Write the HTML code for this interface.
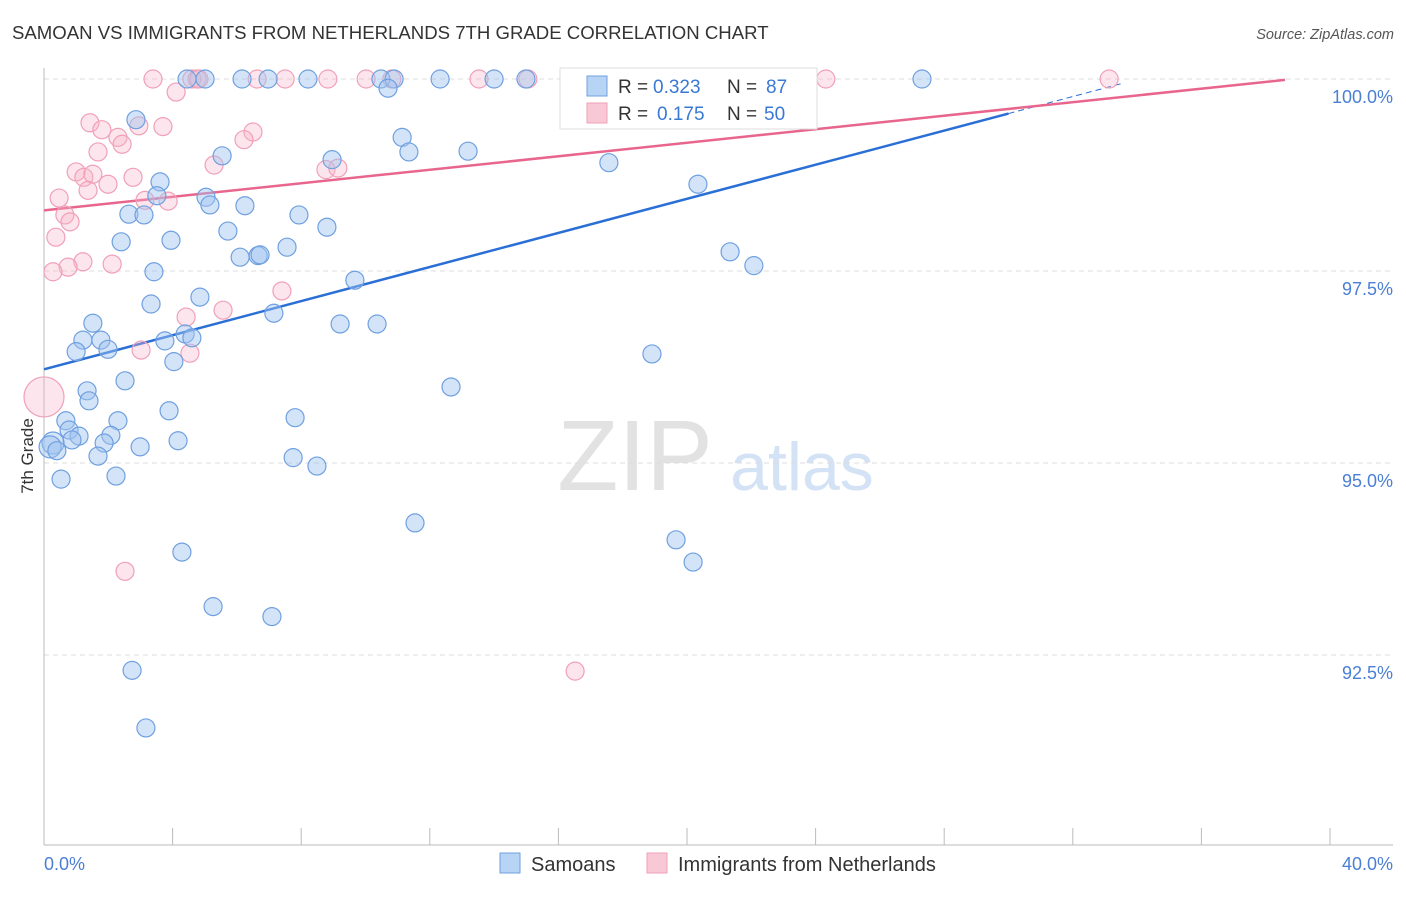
<!DOCTYPE html>
<html><head><meta charset="utf-8"><style>
body{margin:0;background:#fff;font-family:"Liberation Sans",sans-serif;}
svg text{font-family:"Liberation Sans",sans-serif;}
</style></head><body>
<svg id="chart" width="1406" height="892" xmlns="http://www.w3.org/2000/svg">
<text x="12" y="39" font-size="18.6" fill="#333">SAMOAN VS IMMIGRANTS FROM NETHERLANDS 7TH GRADE CORRELATION CHART</text>
<text x="1394" y="39" font-size="14.5" fill="#555" font-style="italic" text-anchor="end">Source: ZipAtlas.com</text>
<g>
<text x="635" y="490" font-size="100" fill="#e2e2e2" font-family="Liberation Serif" text-anchor="middle">ZIP</text>
<text x="802" y="490" font-size="68" fill="#d3e2f4" text-anchor="middle">atlas</text>
</g>
<g id="grid"></g>
<g id="axes"></g>
<g id="lines"></g>
<g id="points"></g>
<text transform="translate(33,456) rotate(-90)" font-size="17" fill="#333" text-anchor="middle">7th Grade</text>
<g>
<rect x="560" y="68" width="257" height="61" fill="#fff" stroke="#ddd"/>
<rect x="587" y="76" width="20" height="20" fill="#b8d4f4" stroke="#6fa0e0"/>
<text x="618" y="93" font-size="19" fill="#333">R =</text>
<text x="653" y="93" font-size="19" fill="#3a78d4">0.323</text>
<text x="727" y="93" font-size="19" fill="#333">N =</text>
<text x="766" y="93" font-size="19" fill="#3a78d4">87</text>
<rect x="587" y="103" width="20" height="20" fill="#f9c8d6" stroke="#f0a0b8"/>
<text x="618" y="120" font-size="19" fill="#333">R =</text>
<text x="657" y="120" font-size="19" fill="#3a78d4">0.175</text>
<text x="727" y="120" font-size="19" fill="#333">N =</text>
<text x="764" y="120" font-size="19" fill="#3a78d4">50</text>
</g>
<g>
<rect x="500" y="853" width="20" height="20" fill="#b8d4f4" stroke="#6fa0e0"/>
<text x="531" y="871" font-size="20" fill="#333">Samoans</text>
<rect x="647" y="853" width="20" height="20" fill="#f9c8d6" stroke="#f0a0b8"/>
<text x="678" y="871" font-size="20" fill="#333">Immigrants from Netherlands</text>
</g>
</svg>
<script>
const yTicks=[100,97.5,95,92.5];
const yTickLabels=["100.0%","97.5%","95.0%","92.5%"];
const xTickLabels=["0.0%","40.0%"];
const blueX=[4.45,5.01,6.16,6.97,8.21,10.48,10.89,12.32,14.0,14.99,27.31,10.7,2.86,11.14,11.35,5.54,13.19,8.96,17.57,20.34,3.61,3.51,5.04,5.16,6.25,2.64,3.11,7.93,8.8,5.72,2.4,3.95,7.56,6.1,6.66,6.72,21.34,22.08,3.42,9.67,4.85,3.33,7.15,1.52,9.21,10.36,1.21,1.77,3.76,4.39,4.6,1.0,1.99,18.91,4.04,2.52,12.66,1.34,1.4,3.89,7.81,0.68,2.3,0.78,2.08,1.09,0.87,0.28,1.87,0.19,2.99,4.17,0.4,1.68,7.75,8.49,0.53,2.24,11.54,19.66,4.29,20.19,5.26,7.09,2.74,3.17];
const blueY=[100,100,100,100,100,100,100,100,100,100,100,99.88,99.47,99.24,99.05,99.0,99.06,98.95,98.91,98.63,98.66,98.48,98.46,98.36,98.35,98.24,98.23,98.23,98.07,98.02,97.88,97.9,97.81,97.68,97.7,97.71,97.75,97.57,97.49,97.38,97.16,97.07,96.95,96.82,96.81,96.81,96.6,96.6,96.59,96.68,96.63,96.45,96.48,96.42,96.32,96.07,95.99,95.94,95.81,95.68,95.59,95.55,95.55,95.43,95.36,95.35,95.3,95.26,95.26,95.21,95.21,95.29,95.16,95.09,95.07,94.96,94.79,94.83,94.22,94.0,93.84,93.71,93.13,93.0,92.3,91.55];
const pinkX=[3.39,4.6,4.76,4.82,6.63,7.5,8.83,10.02,10.82,13.53,15.05,24.32,33.13,4.11,1.43,2.95,3.7,1.8,2.3,6.5,6.22,2.43,1.68,5.29,1.0,1.24,1.52,2.77,1.99,1.37,8.77,9.14,0.47,3.14,3.86,0.65,0.81,0.37,1.21,0.75,2.12,0.28,7.4,5.57,4.42,3.02,4.54,0,2.52,16.52];
const pinkY=[100,100,100,100,100,100,100,100,100,100,100,100,100,99.83,99.43,99.39,99.38,99.34,99.24,99.31,99.21,99.15,99.05,98.88,98.79,98.72,98.76,98.72,98.63,98.55,98.82,98.84,98.45,98.42,98.41,98.23,98.14,97.94,97.62,97.55,97.59,97.49,97.24,96.99,96.9,96.47,96.43,95.86,93.59,92.29];
const blueTrend=[96.22,100.66];
const pinkTrend=[98.29,100.05];
const NS="http://www.w3.org/2000/svg";
const X0=44,X1=1330,Y100=79,PXPER=192/2.5;
function sx(v){return X0+(v/40)*(X1-X0);}
function sy(v){return Y100+(100-v)*PXPER;}
function mk(tag,attrs,parent){const e=document.createElementNS(NS,tag);for(const k in attrs)e.setAttribute(k,attrs[k]);parent.appendChild(e);return e;}
const grid=document.getElementById('grid'),axes=document.getElementById('axes'),lines=document.getElementById('lines'),pts=document.getElementById('points');
yTicks.forEach((t,i)=>{
 const g=mk('line',{x1:44,x2:1393,y1:sy(t),y2:sy(t),stroke:'#dcdcdc','stroke-dasharray':'5,4'},grid);
 
 
 const l=mk('text',{x:1393,y:sy(t)+24,'font-size':18,fill:'#4a7fd4','text-anchor':'end'},axes);
 l.textContent=yTickLabels[i];
 
 
});
const ya=mk('line',{x1:44,x2:44,y1:68,y2:845,stroke:'#bbb'},axes);


const xa=mk('line',{x1:44,x2:1393,y1:845,y2:845,stroke:'#bbb'},axes);


for(let i=0;i<=10;i++){const t=mk('line',{x1:sx(i*4),x2:sx(i*4),y1:828,y2:845,stroke:'#bbb'},axes);
 
 }
const xl0=mk('text',{x:44,y:870,'font-size':18,fill:'#4a7fd4'},axes);xl0.textContent=xTickLabels[0];


const xl1=mk('text',{x:1393,y:870,'font-size':18,fill:'#4a7fd4','text-anchor':'end'},axes);xl1.textContent=xTickLabels[1];


function dot(x,y,r,fill,stroke,name){const c=mk('circle',{cx:sx(x),cy:sy(y),r:r,fill:fill,stroke:stroke,'stroke-width':1.2},pts);
 
 }
pinkX.forEach((x,i)=>dot(x,pinkY[i],(x===0?20:9),'rgba(247,180,200,0.35)','#f0a0b8','netherlands-point'));
blueX.forEach((x,i)=>dot(x,blueY[i],(x<0.3?11:9),'rgba(160,196,240,0.45)','#6fa0e0','samoan-point'));
const bEndX=30.0,bEndY=blueTrend[0]+(blueTrend[1]-blueTrend[0])*bEndX/40;
const bl=mk('line',{x1:sx(0),y1:sy(blueTrend[0]),x2:sx(bEndX),y2:sy(bEndY),stroke:'#2a6fd6','stroke-width':2.5},lines);


const dEndX=33.6,dEndY=blueTrend[0]+(blueTrend[1]-blueTrend[0])*dEndX/40;
const bd=mk('line',{x1:sx(bEndX),y1:sy(bEndY),x2:sx(dEndX),y2:sy(dEndY),stroke:'#2a6fd6','stroke-width':1,'stroke-dasharray':'6,4'},lines);


const pEndX=38.6,pEndY=pinkTrend[0]+(pinkTrend[1]-pinkTrend[0])*pEndX/40;
const pl=mk('line',{x1:sx(0),y1:sy(pinkTrend[0]),x2:sx(pEndX),y2:sy(pEndY),stroke:'#e8668e','stroke-width':2.5},lines);


</script>
</body></html>
